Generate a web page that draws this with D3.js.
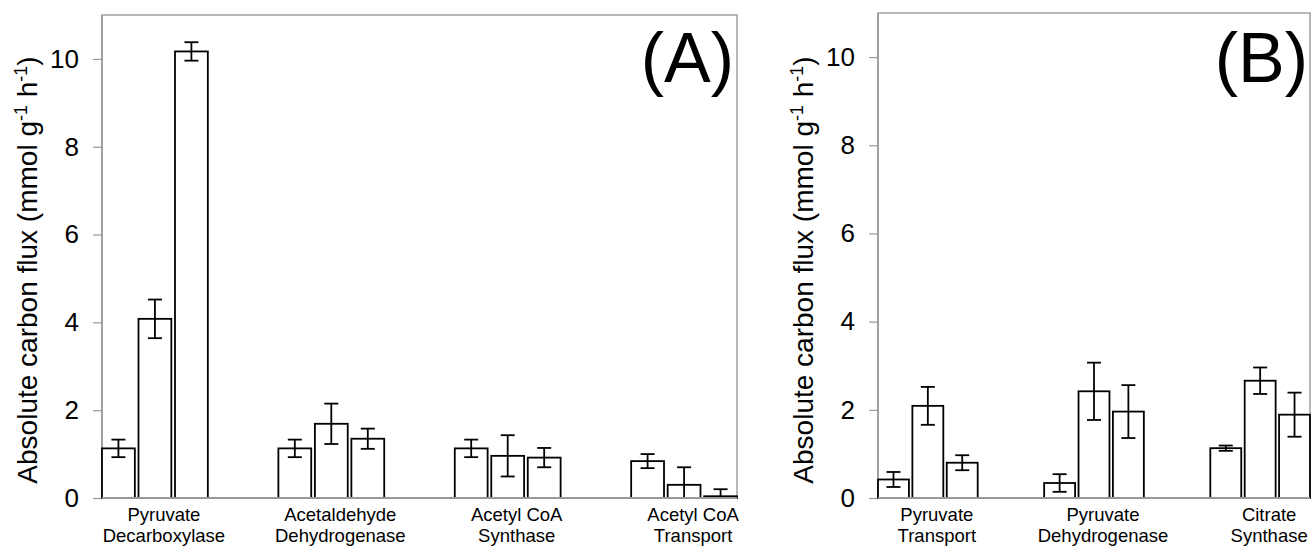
<!DOCTYPE html>
<html>
<head>
<meta charset="utf-8">
<script src="https://cdn.jsdelivr.net/npm/d3@7"></script>
<style>
  body { margin: 0; background: #fff; }
  svg { font-family: "Liberation Sans", Arial, sans-serif; }
</style>
</head>
<body>
<svg id="viz"></svg>
<script>
// panel A
const catsA = [["Pyruvate", "Decarboxylase"], ["Acetaldehyde", "Dehydrogenase"], ["Acetyl CoA", "Synthase"], ["Acetyl CoA", "Transport"]];
const meansA = [[1.13, 4.08, 10.17], [1.13, 1.69, 1.35], [1.13, 0.96, 0.92], [0.84, 0.30, 0.04]];
const errsA = [[0.20, 0.44, 0.21], [0.20, 0.46, 0.23], [0.20, 0.47, 0.22], [0.16, 0.40, 0.16]];

// panel B
const catsB = [["Pyruvate", "Transport"], ["Pyruvate", "Dehydrogenase"], ["Citrate", "Synthase"]];
const meansB = [[0.42, 2.09, 0.80], [0.34, 2.42, 1.96], [1.13, 2.66, 1.89]];
const errsB = [[0.17, 0.43, 0.17], [0.20, 0.65, 0.60], [0.06, 0.30, 0.50]];

const series = [0, 1, 2];
const yTicks = [0, 2, 4, 6, 8, 10];

const app = {
    init() {
        this.svg = d3.select("#viz").attr("width", 1312).attr("height", 546);
        this.drawPanel({left: 102, right: 737, top: 15, bottom: 498, cats: catsA, means: meansA, errs: errsA, tag: "(A)", tagX: 734});
        this.drawPanel({left: 878, right: 1310, top: 13, bottom: 498, cats: catsB, means: meansB, errs: errsB, tag: "(B)", tagX: 1308});
    },

    drawPanel(p) {
        const g = this.svg.append("g");
        const names = p.cats.map(c => c.join(" "));

        const x0 = d3.scaleBand().domain(names).range([p.left, p.right]).paddingInner(0.4).paddingOuter(0);
        const x1 = d3.scaleBand().domain(series).range([0, x0.bandwidth()]).paddingInner(0.1);
        const y = d3.scaleLinear().domain([0, 11]).range([p.bottom, p.top]);

        // frame
        g.append("rect").attr("x", p.left).attr("y", p.top).attr("width", p.right - p.left).attr("height", p.bottom - p.top)
            .attr("fill", "none").attr("stroke", "#888").attr("stroke-width", 1.2);

        // y axis
        const ax = g.append("g").attr("transform", `translate(${p.left},0)`)
            .call(d3.axisLeft(y).tickValues(yTicks).tickSize(9).tickPadding(14));
        ax.select(".domain").remove();
        ax.selectAll(".tick line").attr("stroke", "#999").attr("stroke-width", 1.2);
        ax.selectAll(".tick text").attr("fill", "#000").style("font-size", "26px").style("font-family", "Liberation Sans, Arial, sans-serif");
        g.append("line").attr("x1", p.left).attr("x2", p.left).attr("y1", p.top).attr("y2", p.bottom).attr("stroke", "#999").attr("stroke-width", 1.5);

        // bars
        const groups = g.selectAll(".grp").data(p.means).enter().append("g")
            .attr("transform", (d, i) => `translate(${x0(names[i])},0)`);
        groups.selectAll("rect").data(d => d).enter().append("rect")
            .attr("x", (d, j) => x1(j)).attr("y", d => y(d))
            .attr("width", x1.bandwidth()).attr("height", d => y(0) - y(d))
            .attr("fill", "#fff").attr("stroke", "#000").attr("stroke-width", 1.8);

        // error bars
        const cap = 7;
        groups.each(function(d, i) {
            const eg = d3.select(this);
            d.forEach((v, j) => {
                const cx = x1(j) + x1.bandwidth() / 2;
                const hi = y(v + p.errs[i][j]);
                const lo = y(Math.max(0, v - p.errs[i][j]));
                eg.append("line").attr("x1", cx).attr("x2", cx).attr("y1", hi).attr("y2", lo).attr("stroke", "#000").attr("stroke-width", 1.8);
                eg.append("line").attr("x1", cx - cap).attr("x2", cx + cap).attr("y1", hi).attr("y2", hi).attr("stroke", "#000").attr("stroke-width", 1.8);
                eg.append("line").attr("x1", cx - cap).attr("x2", cx + cap).attr("y1", lo).attr("y2", lo).attr("stroke", "#000").attr("stroke-width", 1.8);
            });
        });

        // bottom axis line
        g.append("line").attr("x1", p.left).attr("x2", p.right).attr("y1", p.bottom).attr("y2", p.bottom).attr("stroke", "#999").attr("stroke-width", 2);

        // category labels
        p.cats.forEach((c, i) => {
            const t = g.append("text").attr("text-anchor", "middle").style("font-size", "18.5px").attr("fill", "#000");
            const cx = x0(names[i]) + x0.bandwidth() / 2 + 9;
            t.append("tspan").attr("x", cx).attr("y", p.bottom + 23).text(c[0]);
            t.append("tspan").attr("x", cx).attr("y", p.bottom + 44).text(c[1]);
        });

        // y title
        const title = g.append("text").attr("transform", "rotate(-90)")
            .attr("x", -270).attr("y", p.left - 65).attr("text-anchor", "middle").style("font-size", "28px").attr("fill", "#000");
        title.append("tspan").text("Absolute carbon flux (mmol g");
        title.append("tspan").attr("dy", -10).style("font-size", "18px").text("-1");
        title.append("tspan").attr("dy", 10).text(" h");
        title.append("tspan").attr("dy", -10).style("font-size", "18px").text("-1");
        title.append("tspan").attr("dy", 10).text(")");

        // panel tag
        g.append("text").attr("x", p.tagX).attr("y", 82).attr("text-anchor", "end").style("font-size", "70px").attr("fill", "#000").text(p.tag);
    }
}

window.addEventListener("DOMContentLoaded", () => app.init())
</script>
</body>
</html>
